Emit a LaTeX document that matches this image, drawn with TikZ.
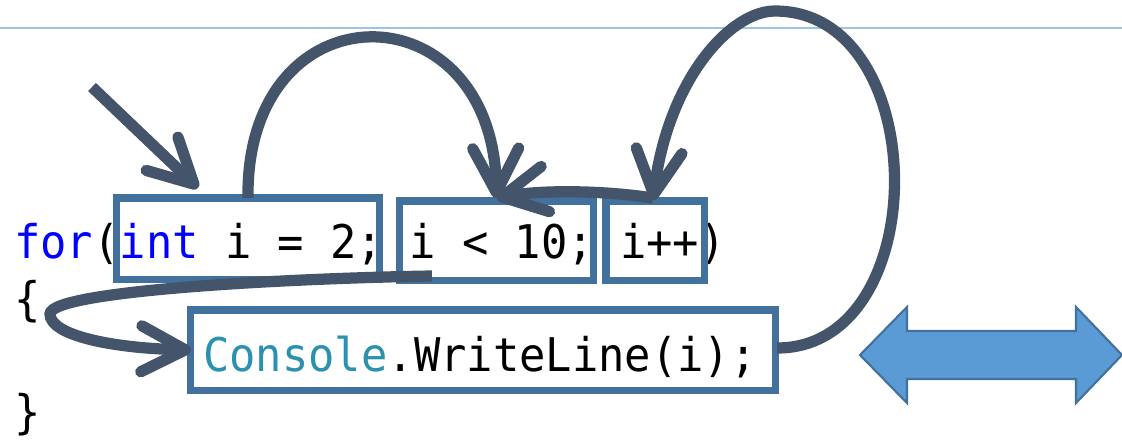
\documentclass[tikz,border=0pt]{standalone}
\usepackage{fontspec}
\newfontfamily\codefont{DejaVu Sans Mono}[FakeStretch=0.943]
\usetikzlibrary{arrows.meta, calc}
\definecolor{boxline}{HTML}{41719C}
\definecolor{flowline}{HTML}{44546A}
\definecolor{ruleblue}{HTML}{9DC3E6}
\definecolor{dblfill}{HTML}{5B9BD5}
\definecolor{keyword}{HTML}{0000FF}
\definecolor{typename}{HTML}{2B91AF}
\tikzset{%
  code/.style={anchor=base west, inner sep=0pt, font=\codefont\fontsize{33}{40}\selectfont},
  box/.style={draw=boxline, line width=5pt, inner sep=0pt, outer sep=0pt},
  flow/.style={draw=flowline, line width=8pt, -{Straight Barb[length=11mm, width=11.5mm, round]}},
  dblarrow/.style={draw=boxline, fill=dblfill, line width=1.5pt}
}
\frenchspacing

\begin{document}
\begin{tikzpicture}[x=0.025cm, y=-0.025cm]
  \fill[white] (0,0) rectangle (1122,443);
  \useasboundingbox (0,0) rectangle (1122,443);
  \draw[ruleblue, line width=1.5pt] (0,28) -- (1122,28);

  % code lines
  \node[code] (forline) at (14,258) {\textcolor{keyword}{for}(\textcolor{keyword}{int} i = 2; i < 10; i++)};
  \node[code] (open) at (14,315) {\{};
  \node[code] (call) at (203,371) {\textcolor{typename}{Console}.WriteLine(i);};
  \node[code] (close) at (14,428) {\}};

  % parts of the loop
  \node[box, minimum width=6.55cm, minimum height=2.025cm] (init) at (248,238.5) {};
  \node[box, minimum width=4.825cm, minimum height=1.975cm] (cond) at (496.5,240.5) {};
  \node[box, minimum width=2.45cm, minimum height=1.975cm] (incr) at (655,240.5) {};
  \node[box, minimum width=14.6cm, minimum height=2cm] (body) at (483,350) {};

  \coordinate (entry) at (92,87);

  \draw[flow] (entry) -- ($(init.north west)+(81,-10)$);
  \draw[flow] (init.north) .. controls (245,-15) and (493,-15) .. ($(cond.north)+(0,-3)$);
  \draw[flow] ($(cond.south west)+(32,-4)$) .. controls (300,278) and (50,290) .. (50,314)
    .. controls (50,335) and (110,348) .. (body.west);
  \draw[flow] ($(body.east)+(2,-2)$) .. controls (935,348) and (933,11) .. (775,11)
    .. controls (730,11) and (668,80) .. ($(incr.north)+(-2,-1)$);
  \draw[flow] ($(incr.north)+(-2,-3)$) .. controls (600,190) and (540,190) .. ($(cond.north)+(0,-3)$);

  \draw[dblarrow] (860,355) -- (907,307) -- (907,331) -- (1076,331) -- (1076,307) -- (1122,355)
    -- (1076,403) -- (1076,379) -- (907,379) -- (907,403) -- cycle;
\end{tikzpicture}
\end{document}
